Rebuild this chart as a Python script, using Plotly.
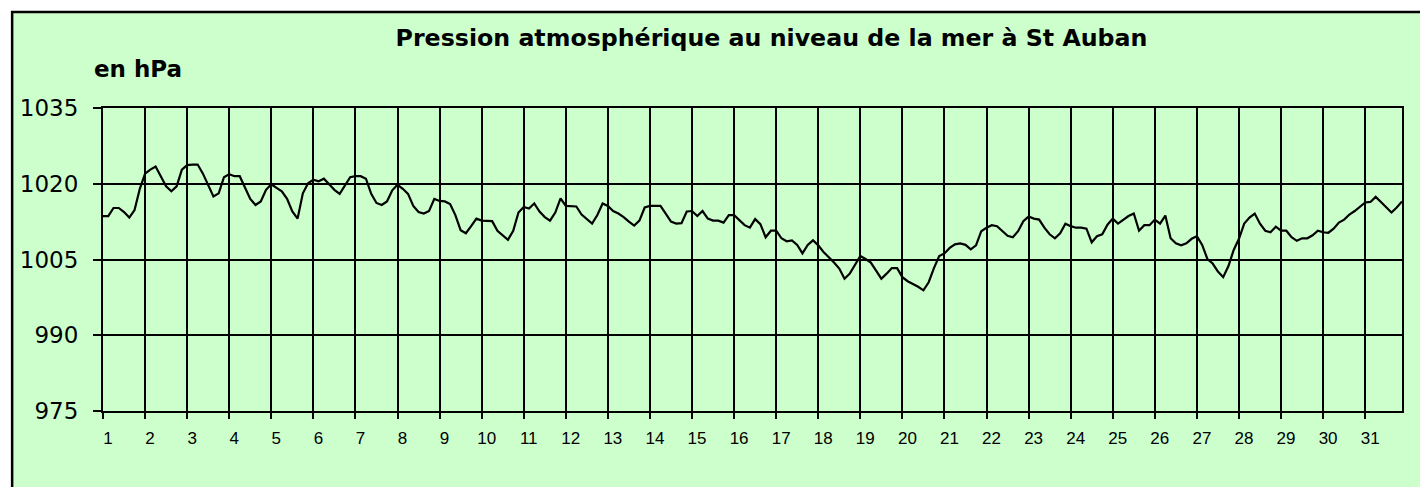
import plotly.graph_objects as go

# ---- data -------------------------------------------------------------
jours = list(range(1, 32))
etiquettes_x = [str(j) for j in jours]
mesures_par_jour = 8  # one reading every 3 hours

pression = [
    1013.6, 1013.6, 1015.2, 1015.2, 1014.4, 1013.3, 1014.8, 1019.0,
    1022.0, 1022.8, 1023.4, 1021.5, 1019.5, 1018.5, 1019.5, 1022.8,
    1023.7, 1023.8, 1023.8, 1022.0, 1019.8, 1017.5, 1018.1, 1021.3,
    1021.9, 1021.5, 1021.5, 1019.2, 1017.0, 1015.8, 1016.5, 1018.8,
    1019.9, 1019.2, 1018.5, 1017.0, 1014.5, 1013.1, 1018.1, 1020.1,
    1020.8, 1020.5, 1021.0, 1019.9, 1018.8, 1018.0, 1019.7, 1021.3,
    1021.5, 1021.5, 1021.0, 1018.0, 1016.2, 1015.8, 1016.5, 1018.7,
    1019.8, 1019.0, 1018.0, 1015.6, 1014.4, 1014.1, 1014.6, 1017.0,
    1016.6, 1016.5, 1016.0, 1013.8, 1010.8, 1010.2, 1011.6, 1013.1,
    1012.7, 1012.7, 1012.6, 1010.7, 1009.7, 1008.9, 1010.7, 1014.3,
    1015.4, 1015.1, 1016.1, 1014.5, 1013.4, 1012.7, 1014.3, 1017.1,
    1015.6, 1015.6, 1015.5, 1013.9, 1012.9, 1012.1, 1013.8, 1016.1,
    1015.6, 1014.6, 1014.1, 1013.4, 1012.5, 1011.7, 1012.7, 1015.3,
    1015.6, 1015.6, 1015.6, 1014.1, 1012.5, 1012.1, 1012.2, 1014.5,
    1014.6, 1013.6, 1014.6, 1013.1, 1012.7, 1012.7, 1012.3, 1013.8,
    1013.8, 1012.8, 1011.8, 1011.3, 1013.0, 1012.0, 1009.4, 1010.7,
    1010.7, 1009.2, 1008.6, 1008.8, 1007.9, 1006.2, 1007.9, 1008.8,
    1007.8, 1006.5, 1005.5, 1004.4, 1003.2, 1001.2, 1002.2, 1004.1,
    1005.7, 1005.1, 1004.4, 1002.8, 1001.2, 1002.2, 1003.3, 1003.3,
    1001.5, 1000.7, 1000.2, 999.6, 998.9, 1000.5, 1003.3, 1005.7,
    1006.2, 1007.3, 1008.0, 1008.2, 1007.9, 1007.0, 1007.8, 1010.6,
    1011.3, 1011.8, 1011.6, 1010.6, 1009.7, 1009.4, 1010.6, 1012.6,
    1013.5, 1013.1, 1012.9, 1011.3, 1010.0, 1009.2, 1010.2, 1012.1,
    1011.6, 1011.3, 1011.3, 1011.1, 1008.4, 1009.6, 1010.0, 1011.9,
    1013.1, 1012.1, 1012.8, 1013.6, 1014.1, 1010.7, 1011.8, 1011.8,
    1012.9, 1012.1, 1013.7, 1009.2, 1008.2, 1007.8, 1008.2, 1009.1,
    1009.6, 1007.9, 1005.1, 1004.2, 1002.6, 1001.5, 1003.7, 1006.9,
    1009.1, 1012.1, 1013.3, 1014.1, 1012.1, 1010.7, 1010.4, 1011.5,
    1010.7, 1010.7, 1009.4, 1008.7, 1009.2, 1009.2, 1009.8, 1010.7,
    1010.4, 1010.3, 1011.1, 1012.3, 1012.9, 1013.9, 1014.6, 1015.4,
    1016.3, 1016.4, 1017.4, 1016.4, 1015.4, 1014.3, 1015.3, 1016.5,
]
y_ticks = [975, 990, 1005, 1020, 1035]

titre = "Pression atmosphérique au niveau de la mer à St Auban"
unite = "en hPa"

# ---- figure -----------------------------------------------------------
x_vals = [1 + k / mesures_par_jour for k in range(len(pression))]

# the page body has an 8px margin, so the figure is sized/offset for it
OFF = 8
W, H = 1428 - OFF, 487 - OFF
ML, MR, MT, MB = 101 - OFF, 26, 108 - OFF, 76
pw, ph = W - ML - MR, H - MT - MB
GREEN = "#CCFFCC"

fig = go.Figure(
    go.Scatter(x=x_vals, y=pression, mode="lines",
               line=dict(color="black", width=2.2), hoverinfo="skip")
)

fig.update_layout(
    width=W, height=H,
    margin=dict(l=ML, r=MR, t=MT, b=MB, pad=0),
    paper_bgcolor="white",
    plot_bgcolor=GREEN,
    showlegend=False,
    title=dict(text="<b>" + titre + "</b>", x=(771.5 - OFF) / W,
               y=1 - (38 - OFF) / H,
               xanchor="center", yanchor="middle",
               font=dict(family="DejaVu Sans", size=23.7, color="black")),
    shapes=[dict(type="rect", xref="paper", yref="paper",
                 x0=(10 - OFF - ML) / pw, x1=1.2, y0=-0.6,
                 y1=(MT + ph - (12 - OFF)) / ph,
                 line=dict(color="black", width=2.5), fillcolor=GREEN,
                 layer="below")],
    annotations=[dict(text="<b>" + unite + "</b>", xref="paper", yref="paper",
                      x=(90 - OFF - ML) / pw, y=(MT + ph - (69 - OFF)) / ph,
                      xanchor="left", yanchor="middle", showarrow=False,
                      font=dict(family="DejaVu Sans", size=23, color="black"))],
)

fig.update_xaxes(
    range=[1, 1 + (len(pression) - 1) / mesures_par_jour],
    tickmode="array", tickvals=jours, ticktext=etiquettes_x,
    showgrid=True, gridcolor="black", gridwidth=2,
    showline=True, linecolor="black", linewidth=2, mirror=True,
    ticks="outside", ticklen=6, tickwidth=2, tickcolor="black",
    tickfont=dict(family="Liberation Sans", size=17, color="black"),
    ticklabelshift=5, ticklabelstandoff=5,
    zeroline=False, fixedrange=True,
)
fig.update_yaxes(
    range=[975, 1035], tickmode="array", tickvals=y_ticks,
    ticktext=[str(v) for v in y_ticks],
    showgrid=True, gridcolor="black", gridwidth=2,
    showline=True, linecolor="black", linewidth=2, mirror=True,
    ticks="outside", ticklen=8, tickwidth=2, tickcolor="black",
    tickfont=dict(family="DejaVu Sans", size=23, color="black"),
    ticklabelstandoff=10,
    zeroline=False, fixedrange=True,
)

fig.write_html("out.html")
